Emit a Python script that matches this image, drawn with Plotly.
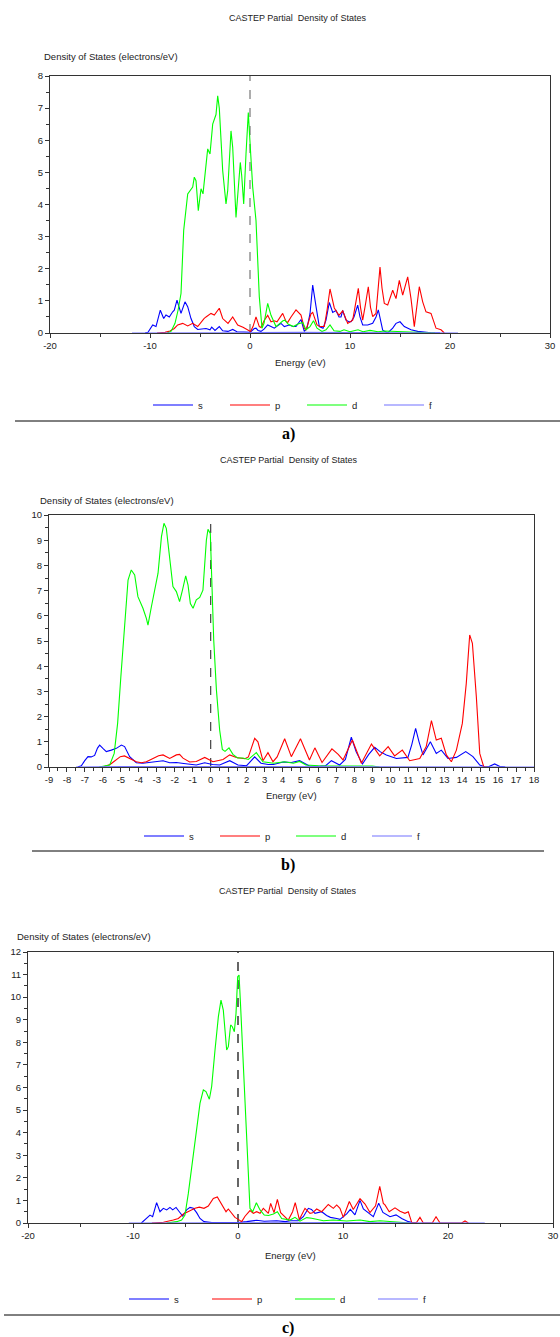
import plotly.graph_objects as go

W, H = 560, 1337

# ---------------- Panel a data ----------------
a_s_E = [-10.5, -10.2, -9.73, -9.4, -8.97, -8.63, -8.4, -8.07, -7.73, -7.57, -7.3, -6.9, -6.5, -6.23, -5.9, -5.57, -5.23, -4.9, -4.4, -4.0, -3.83, -3.5, -3.07, -2.73, -2.2, -1.73, -1.3, -0.6, 0.0, 0.43, 0.6, 0.8, 1.1, 1.4, 1.77, 2.1, 2.43, 3.1, 3.43, 3.93, 4.3, 4.6, 5.1, 5.43, 5.7, 6.0, 6.27, 6.6, 6.93, 7.3, 7.6, 7.93, 8.27, 8.6, 8.9, 9.1, 9.27, 9.6, 9.9, 10.1, 10.4, 10.77, 11.0, 11.27, 11.77, 12.27, 12.6, 12.83, 13.05, 13.27, 13.77, 14.27, 14.6, 15.0, 15.43, 16.1, 16.77, 17.5, 18.1, 19.0]
a_s_v = [0, 0.02, 0.25, 0.2, 0.71, 0.45, 0.56, 0.5, 0.66, 0.71, 1.02, 0.61, 0.97, 0.82, 0.45, 0.2, 0.11, 0.12, 0.14, 0.1, 0.18, 0.08, 0.2, 0.07, 0.05, 0.11, 0.04, 0.03, 0.02, 0.14, 0.15, 0.08, 0.05, 0.12, 0.25, 0.2, 0.15, 0.3, 0.2, 0.25, 0.2, 0.2, 0.42, 0.05, 0.15, 0.6, 1.49, 0.83, 0.2, 0.15, 0.4, 0.95, 0.64, 0.7, 0.5, 0.5, 0.7, 0.4, 0.35, 0.35, 0.5, 0.87, 0.5, 0.25, 0.25, 0.3, 0.5, 0.72, 0.4, 0.09, 0.0, 0.15, 0.3, 0.35, 0.2, 0.1, 0.05, 0.02, 0.01, 0]

a_p_E = [-9.3, -8.5, -8.0, -7.57, -7.23, -6.73, -6.23, -5.73, -5.23, -4.9, -4.6, -4.4, -3.9, -3.57, -3.07, -2.73, -2.4, -2.2, -1.73, -1.23, -0.7, -0.3, 0.05, 0.3, 0.6, 0.93, 1.1, 1.43, 1.77, 2.1, 2.43, 2.7, 3.27, 3.6, 3.77, 4.1, 4.6, 5.1, 5.43, 5.6, 6.1, 6.27, 6.7, 7.0, 7.43, 7.7, 8.0, 8.43, 8.9, 9.27, 9.77, 10.27, 10.55, 10.83, 11.05, 11.27, 11.55, 11.83, 12.05, 12.27, 12.6, 13.0, 13.2, 13.43, 13.77, 14.27, 14.6, 14.93, 15.27, 15.77, 16.1, 16.43, 16.93, 17.27, 17.6, 18.1, 18.6, 19.1, 19.43]
a_p_v = [0, 0.02, 0.06, 0.14, 0.25, 0.3, 0.22, 0.3, 0.2, 0.35, 0.45, 0.5, 0.61, 0.56, 0.77, 0.45, 0.35, 0.3, 0.5, 0.25, 0.18, 0.1, 0.05, 0.2, 0.5, 0.2, 0.17, 0.4, 0.55, 0.35, 0.38, 0.35, 0.61, 0.36, 0.33, 0.5, 0.72, 0.56, 0.15, 0.09, 0.6, 0.64, 0.25, 0.2, 0.2, 0.7, 1.37, 0.78, 0.55, 0.69, 0.3, 0.4, 0.9, 1.39, 0.8, 0.4, 0.9, 1.44, 0.8, 0.51, 0.61, 2.05, 1.4, 0.92, 0.87, 1.33, 1.07, 1.64, 1.18, 1.75, 1.07, 0.2, 1.44, 0.97, 0.66, 0.61, 0.15, 0.1, 0.0]

a_d_E = [-8.3, -7.9, -7.5, -7.2, -6.9, -6.63, -6.23, -5.73, -5.57, -5.4, -5.17, -4.9, -4.7, -4.4, -4.23, -4.0, -3.73, -3.4, -3.23, -3.07, -2.73, -2.4, -2.23, -1.9, -1.73, -1.4, -1.17, -0.97, -0.83, -0.63, -0.4, -0.17, 0.03, 0.27, 0.6, 0.93, 1.2, 1.4, 1.77, 2.1, 2.6, 3.0, 3.3, 3.5, 3.8, 4.33, 4.8, 5.27, 5.6, 6.0, 6.35, 6.7, 7.2, 7.6, 8.0, 8.4, 9.0, 9.4, 10.0, 10.8, 11.3, 12.0, 12.8, 13.5, 14.5, 15.5, 16.5, 17.5, 18.5]
a_d_v = [0, 0.05, 0.3, 0.7, 1.23, 3.2, 4.33, 4.54, 4.85, 4.74, 3.81, 4.49, 4.33, 5.36, 5.73, 5.57, 6.5, 6.8, 7.38, 7.0, 5.05, 4.02, 4.43, 6.29, 5.78, 3.6, 4.54, 5.31, 4.9, 4.02, 5.57, 6.86, 5.78, 4.54, 3.5, 1.13, 0.15, 0.3, 0.92, 0.55, 0.2, 0.3, 0.38, 0.4, 0.28, 0.2, 0.28, 0.33, 0.1, 0.2, 0.38, 0.15, 0.05, 0.1, 0.25, 0.07, 0.05, 0.1, 0.04, 0.1, 0.04, 0.08, 0.04, 0.06, 0.05, 0.05, 0.04, 0.01, 0]

a_f_E = [-11.8, -8.0, -4.0, 0.0, 5.0, 10.0, 15.0, 20.8]
a_f_v = [0, 0.01, 0.01, 0.01, 0.02, 0.02, 0.01, 0]

a_xticks = [-20, -10, 0, 10, 20, 30]
a_xticktext = ["-20", "-10", "0", "10", "20", "30"]

# ---------------- Panel b data ----------------
b_s_E = [-7.4, -7.2, -7.01, -6.83, -6.65, -6.46, -6.3, -6.18, -6.0, -5.81, -5.53, -5.25, -4.97, -4.79, -4.51, -4.14, -3.77, -3.21, -2.65, -2.28, -1.91, -1.5, -1.1, -0.8, -0.33, 0.1, 0.5, 1.06, 1.52, 2.0, 2.45, 2.8, 3.2, 3.5, 4.03, 4.49, 4.95, 5.5, 6.0, 6.4, 6.72, 7.18, 7.5, 7.83, 8.1, 8.45, 8.8, 9.13, 9.45, 9.78, 10.34, 10.98, 11.2, 11.41, 11.6, 11.82, 12.23, 12.56, 12.84, 13.21, 13.68, 14.2, 14.6, 14.98, 15.3, 15.5, 15.81, 16.1, 16.4]
b_s_v = [0, 0.05, 0.25, 0.41, 0.4, 0.46, 0.75, 0.87, 0.74, 0.61, 0.67, 0.74, 0.87, 0.81, 0.41, 0.17, 0.15, 0.21, 0.25, 0.17, 0.18, 0.14, 0.12, 0.08, 0.17, 0.1, 0.08, 0.25, 0.08, 0.05, 0.4, 0.15, 0.1, 0.1, 0.2, 0.18, 0.25, 0.04, 0.03, 0.05, 0.25, 0.08, 0.3, 1.18, 0.6, 0.12, 0.5, 0.78, 0.6, 0.48, 0.34, 0.38, 0.9, 1.53, 1.0, 0.48, 1.0, 0.54, 0.67, 0.34, 0.38, 0.61, 0.41, 0.08, 0.0, 0.02, 0.12, 0.02, 0]

b_p_E = [-6.0, -5.6, -5.4, -5.03, -4.8, -4.51, -4.14, -3.86, -3.58, -3.21, -2.9, -2.65, -2.28, -1.91, -1.73, -1.54, -1.17, -0.8, -0.33, 0.13, 0.5, 0.69, 1.06, 1.43, 1.9, 2.1, 2.45, 2.63, 2.91, 3.19, 3.47, 3.7, 4.12, 4.49, 5.0, 5.5, 5.8, 6.2, 6.75, 7.1, 7.37, 7.89, 8.39, 8.95, 9.41, 9.88, 10.24, 10.67, 11.08, 11.64, 12.0, 12.29, 12.56, 12.84, 13.12, 13.4, 13.68, 14.01, 14.23, 14.42, 14.57, 14.79, 14.98, 15.2, 15.4]
b_p_v = [0, 0.1, 0.21, 0.41, 0.44, 0.34, 0.21, 0.17, 0.21, 0.34, 0.45, 0.48, 0.34, 0.48, 0.5, 0.35, 0.2, 0.22, 0.38, 0.21, 0.25, 0.3, 0.48, 0.38, 0.33, 0.4, 1.14, 1.0, 0.25, 0.57, 0.21, 0.4, 1.12, 0.41, 1.12, 0.28, 0.76, 0.18, 0.72, 0.5, 0.28, 1.07, 0.15, 0.91, 0.44, 0.81, 0.44, 0.67, 0.25, 0.34, 0.81, 1.84, 1.07, 1.14, 0.48, 0.21, 0.67, 1.73, 3.32, 5.24, 4.91, 2.79, 0.54, 0.01, 0]

b_d_E = [-6.2, -5.62, -5.37, -5.18, -5.0, -4.8, -4.6, -4.42, -4.23, -4.05, -3.77, -3.58, -3.49, -3.3, -3.11, -2.93, -2.74, -2.6, -2.47, -2.28, -2.1, -1.91, -1.73, -1.57, -1.39, -1.26, -1.13, -0.98, -0.8, -0.61, -0.43, -0.24, -0.15, -0.02, 0.07, 0.17, 0.32, 0.5, 0.65, 0.8, 1.02, 1.24, 1.5, 1.8, 2.1, 2.35, 2.54, 2.91, 3.5, 4.12, 4.6, 4.95, 5.3, 6.0, 7.0, 8.0, 9.0, 9.4]
b_d_v = [0, 0.08, 0.54, 1.73, 3.58, 5.7, 7.42, 7.82, 7.62, 6.76, 6.3, 5.9, 5.63, 6.36, 7.02, 7.69, 9.14, 9.67, 9.47, 8.21, 7.16, 6.96, 6.56, 7.02, 7.58, 7.22, 6.49, 6.3, 6.63, 6.73, 7.02, 9.0, 9.43, 9.27, 7.42, 5.04, 3.06, 1.47, 0.7, 0.62, 0.76, 0.5, 0.36, 0.36, 0.3, 0.45, 0.57, 0.21, 0.15, 0.21, 0.15, 0.22, 0.08, 0.05, 0.05, 0.06, 0.04, 0]

b_f_E = [-7.5, -5.0, 0.0, 5.0, 10.0, 15.0, 18.0]
b_f_v = [0, 0.02, 0.02, 0.02, 0.02, 0.01, 0]

b_xticks = list(range(-9, 19))
b_xticktext = [str(t) for t in b_xticks]

# ---------------- Panel c data ----------------
c_s_E = [-9.2, -8.7, -8.38, -8.13, -7.75, -7.43, -7.11, -6.79, -6.48, -6.22, -5.9, -5.59, -5.27, -4.89, -4.57, -4.25, -3.94, -3.62, -3.24, -2.5, -1.0, 0.0, 0.83, 1.78, 2.5, 3.68, 4.5, 5.0, 5.75, 6.22, 6.7, 7.0, 7.33, 7.6, 7.97, 8.44, 8.8, 9.4, 9.71, 10.35, 10.7, 11.14, 11.62, 11.94, 12.32, 12.89, 13.4, 13.8, 14.48, 15.05, 15.59, 16.22, 16.8]
c_s_v = [0, 0.2, 0.35, 0.28, 0.9, 0.5, 0.65, 0.58, 0.69, 0.58, 0.69, 0.5, 0.31, 0.58, 0.69, 0.65, 0.46, 0.2, 0.06, 0.02, 0.02, 0.02, 0.06, 0.12, 0.08, 0.1, 0.06, 0.1, 0.1, 0.28, 0.65, 0.6, 0.43, 0.45, 0.5, 0.33, 0.25, 0.2, 0.16, 0.4, 0.6, 0.36, 1.0, 0.62, 0.5, 0.28, 0.88, 0.47, 0.28, 0.36, 0.2, 0.06, 0]

c_p_E = [-8.2, -7.1, -6.16, -5.68, -5.2, -4.73, -4.1, -3.68, -3.24, -2.83, -2.35, -1.97, -1.56, -1.14, -0.92, -0.6, -0.29, 0.03, 0.35, 0.67, 1.14, 1.46, 1.78, 2.1, 2.41, 2.89, 3.11, 3.43, 3.75, 4.06, 4.48, 4.79, 5.2, 5.45, 5.84, 6.38, 6.86, 7.1, 7.49, 7.97, 8.6, 9.08, 9.4, 9.71, 10.03, 10.6, 10.98, 11.62, 12.1, 12.57, 13.1, 13.5, 13.84, 14.0, 14.4, 14.95, 15.43, 15.9, 16.22, 16.54, 17.0, 17.33, 17.65, 18.5, 18.86, 19.24, 21.3, 21.62, 21.94]
c_p_v = [0, 0.03, 0.13, 0.2, 0.4, 0.5, 0.65, 0.7, 0.65, 0.75, 1.09, 1.15, 0.8, 0.5, 0.62, 0.45, 0.25, 0.16, 0.06, 0.3, 0.55, 0.43, 0.5, 0.43, 0.65, 0.43, 0.87, 0.46, 1.05, 0.46, 0.25, 0.13, 0.5, 0.9, 0.16, 0.65, 0.43, 0.45, 0.62, 0.5, 0.82, 0.65, 0.8, 0.65, 0.25, 0.95, 0.6, 1.08, 0.84, 0.46, 0.76, 1.62, 0.87, 0.8, 0.5, 0.67, 0.52, 0.43, 0.5, 0.03, 0.02, 0.25, 0, 0, 0.28, 0, 0, 0.09, 0]

c_d_E = [-6.8, -5.84, -5.37, -5.05, -4.73, -4.41, -3.94, -3.62, -3.3, -3.05, -2.73, -2.51, -2.19, -1.87, -1.62, -1.4, -1.08, -0.92, -0.7, -0.54, -0.35, -0.19, -0.03, 0.1, 0.25, 0.44, 0.67, 0.89, 1.14, 1.4, 1.75, 2.1, 2.5, 2.9, 3.37, 3.75, 4.16, 4.95, 5.43, 5.9, 6.54, 7.02, 8.13, 9.08, 10.35, 11.62, 12.57, 13.52, 15.11, 16.38]
c_d_v = [0, 0.06, 0.13, 0.35, 1.31, 2.49, 4.27, 5.3, 5.89, 5.82, 5.48, 6.04, 7.66, 9.14, 9.87, 9.43, 7.66, 7.81, 8.77, 8.69, 8.47, 9.28, 10.91, 10.98, 9.58, 7.66, 5.0, 2.6, 0.65, 0.5, 0.9, 0.58, 0.35, 0.33, 0.4, 0.5, 0.2, 0.13, 0.25, 0.08, 0.24, 0.21, 0.1, 0.13, 0.09, 0.13, 0.06, 0.1, 0.03, 0]

c_f_E = [-10.4, -6.0, 0.0, 5.0, 10.0, 15.0, 20.0, 23.5]
c_f_v = [0, 0.01, 0.01, 0.02, 0.02, 0.01, 0.01, 0]

c_xticks = [-20, -10, 0, 10, 20, 30]
c_xticktext = ["-20", "-10", "0", "10", "20", "30"]

series_names = ["s", "p", "d", "f"]
series_colors = ["#0000FF", "#FF0000", "#00FF00", "#7373FF"]

panels = [
    dict(E=[a_s_E, a_p_E, a_d_E, a_f_E], V=[a_s_v, a_p_v, a_d_v, a_f_v],
         xr=[-20, 30], xtv=a_xticks, xtt=a_xticktext, xminor=5, yr=[0, 8],
         xpx=(50, 550), ypx=(76, 333),
         title_y=18, ylab=(42, 56), elab_y=363, leg=(148, 405, 22), sep=(15, 560, 421),
         tag="a)", tag_y=434, vcolor="#777777"),
    dict(E=[b_s_E, b_p_E, b_d_E, b_f_E], V=[b_s_v, b_p_v, b_d_v, b_f_v],
         xr=[-9, 18], xtv=b_xticks, xtt=b_xticktext, xminor=0.5, yr=[0, 10],
         xpx=(49, 534), ypx=(515, 767),
         title_y=460, ylab=(38, 500), elab_y=795, leg=(139, 836, 21), sep=(32, 544, 851),
         tag="b)", tag_y=865, vcolor="#444444"),
    dict(E=[c_s_E, c_p_E, c_d_E, c_f_E], V=[c_s_v, c_p_v, c_d_v, c_f_v],
         xr=[-20, 30], xtv=c_xticks, xtt=c_xticktext, xminor=5, yr=[0, 12],
         xpx=(28, 553), ypx=(952, 1223),
         title_y=891, ylab=(15, 936), elab_y=1255, leg=(124, 1299, 28), sep=(4, 560, 1315),
         tag="c)", tag_y=1328, vcolor="#000000"),
]

FONT = "Liberation Sans"
TXT = "#222222"

def px_x(px):
    return px / W

def px_y(py):
    return 1 - py / H

fig = go.Figure()
annotations = []
shapes = []
layout_axes = {}

for i, p in enumerate(panels):
    n = "" if i == 0 else str(i + 1)
    xa, ya = "x" + n, "y" + n
    legname = "legend" + n
    for k in range(4):
        fig.add_trace(go.Scatter(
            x=p["E"][k], y=p["V"][k], mode="lines", name=series_names[k],
            line=dict(color=series_colors[k], width=1.1),
            xaxis=xa, yaxis=ya, legend=legname, showlegend=True,
            hoverinfo="skip"))
    axis_common = dict(showline=True, linecolor="#333333", linewidth=1, mirror=True,
                       showgrid=False, zeroline=False, ticks="outside", ticklen=4,
                       tickcolor="#333333", tickfont=dict(family=FONT, size=9.5, color=TXT),
                       layer="below traces", automargin=False)
    layout_axes["xaxis" + n] = dict(
        axis_common, domain=[px_x(p["xpx"][0]), px_x(p["xpx"][1])], range=p["xr"],
        anchor=ya, tickmode="array", tickvals=p["xtv"], ticktext=p["xtt"],
        minor=dict(dtick=p["xminor"], tick0=0, ticks="outside", ticklen=3, tickcolor="#333333"))
    layout_axes["yaxis" + n] = dict(
        axis_common, domain=[px_y(p["ypx"][1]), px_y(p["ypx"][0])], range=p["yr"],
        anchor=xa, dtick=1, tick0=0,
        minor=dict(dtick=0.5, ticks="outside", ticklen=3, tickcolor="#333333"))
    # Fermi level dashed line
    shapes.append(dict(type="line", xref=xa, yref=ya + " domain", x0=0, x1=0, y0=0, y1=1,
                       line=dict(color=p["vcolor"], width=1.2, dash="dash"), layer="below"))
    # separator line
    shapes.append(dict(type="line", xref="paper", yref="paper",
                       x0=px_x(p["sep"][0]), x1=px_x(p["sep"][1]),
                       y0=px_y(p["sep"][2]), y1=px_y(p["sep"][2]),
                       line=dict(color="#000000", width=1)))
    cx = (p["xpx"][0] + p["xpx"][1]) / 2
    annotations.append(dict(text="CASTEP Partial\u00a0 Density of States", x=px_x(cx - 3),
                            y=px_y(p["title_y"]), xref="paper", yref="paper", showarrow=False,
                            xanchor="center", yanchor="middle",
                            font=dict(family=FONT, size=9, color=TXT)))
    annotations.append(dict(text="Density of States (electrons/eV)", x=px_x(p["ylab"][0]),
                            y=px_y(p["ylab"][1]), xref="paper", yref="paper", showarrow=False,
                            xanchor="left", yanchor="middle",
                            font=dict(family=FONT, size=9.5, color=TXT)))
    annotations.append(dict(text="Energy (eV)", x=px_x(cx), y=px_y(p["elab_y"]),
                            xref="paper", yref="paper", showarrow=False,
                            xanchor="center", yanchor="middle",
                            font=dict(family=FONT, size=9.5, color=TXT)))
    annotations.append(dict(text="<b>" + p["tag"] + "</b>", x=px_x(288), y=px_y(p["tag_y"]),
                            xref="paper", yref="paper", showarrow=False,
                            xanchor="center", yanchor="middle",
                            font=dict(family="Liberation Serif", size=16, color="#000000")))
    layout_axes[legname] = dict(
        orientation="h", x=px_x(p["leg"][0]), y=px_y(p["leg"][1]), xanchor="left",
        yanchor="middle", entrywidth=p["leg"][2], entrywidthmode="pixels",
        font=dict(family=FONT, size=9.5, color=TXT), bgcolor="rgba(0,0,0,0)",
        borderwidth=0, itemwidth=40, tracegroupgap=0)

# width/height come from the page div (pinned to the page's top-left corner)
fig.update_layout(
    autosize=True, margin=dict(l=0, r=0, t=0, b=0, autoexpand=False),
    paper_bgcolor="white", plot_bgcolor="white",
    annotations=annotations, shapes=shapes, **layout_axes)

fig.write_html("out.html",
               config={"displayModeBar": False, "responsive": False},
               default_width="%dpx; position:absolute; left:0px; top:0px; margin:0px" % W,
               default_height="%dpx" % H,
               post_script="document.body.style.margin='0px';document.body.style.overflow='hidden';")
